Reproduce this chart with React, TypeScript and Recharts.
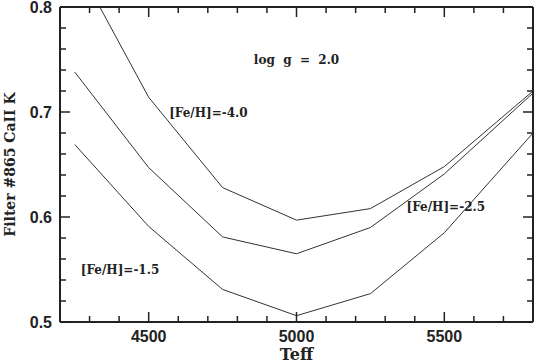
import React from "react";
import { LineChart, Line, XAxis, YAxis, ReferenceDot } from "recharts";

// Teff grid and filter index for three metallicities (log g = 2.0)
const teff = [4250, 4500, 4750, 5000, 5250, 5500, 5800];
const fehMinus40 = [0.844, 0.714, 0.628, 0.597, 0.608, 0.648, 0.72];
const fehMinus25 = [0.738, 0.647, 0.581, 0.565, 0.59, 0.641, 0.718];
const fehMinus15 = [0.669, 0.591, 0.531, 0.506, 0.527, 0.585, 0.68];

const xTicks = [4300, 4400, 4500, 4600, 4700, 4800, 4900, 5000, 5100, 5200, 5300, 5400, 5500, 5600, 5700];
const yTicks = [0.5, 0.52, 0.54, 0.56, 0.58, 0.6, 0.62, 0.64, 0.66, 0.68, 0.7, 0.72, 0.74, 0.76, 0.78, 0.8];
const yLabels = [0.5, 0.6, 0.7, 0.8];

const annotations = [
  { x: 5000, y: 0.7495, text: "log  g  =  2.0" },
  { x: 4702, y: 0.699, text: "[Fe/H]=-4.0" },
  { x: 5505, y: 0.61, text: "[Fe/H]=-2.5" },
  { x: 4403, y: 0.55, text: "[Fe/H]=-1.5" },
];

const data = teff.map((t, i) => ({
  teff: t,
  m40: fehMinus40[i],
  m25: fehMinus25[i],
  m15: fehMinus15[i],
}));

const W = 534;
const H = 363;
const X_AXIS_H = 41;
const Y_AXIS_W = 60;
const PLOT_W = W - Y_AXIS_W - 1;
const PLOT_H = H - 7 - X_AXIS_H;

const INK = "#222";
const serif = "'DejaVu Serif', serif";
const sans = "'Liberation Sans', Arial, sans-serif";

const isMajorX = (v: number) => v % 500 === 0;
const isMajorY = (v: number) => yLabels.some((l) => Math.abs(l - v) < 1e-6);

// tick labels (data chart)
function XLabel(props: any) {
  const { x, y, payload } = props;
  if (!isMajorX(payload.value)) return <g />;
  return (
    <text x={x} y={y + 20} textAnchor="middle" fontFamily={sans} fontWeight="bold" fontSize={16} fill={INK}>
      {payload.value}
    </text>
  );
}

function YLabel(props: any) {
  const { x, y, payload } = props;
  if (!isMajorY(payload.value)) return <g />;
  return (
    <text x={x - 8} y={y} textAnchor="end" dominantBaseline="central" fontFamily={sans} fontWeight="bold" fontSize={16} fill={INK}>
      {payload.value.toFixed(1)}
    </text>
  );
}

// inward tick marks on all four sides (overlay chart)
function XMark(props: any) {
  const { x, y, payload } = props;
  const len = isMajorX(payload.value) ? 10 : 6;
  return (
    <g>
      <line x1={x} x2={x} y1={y} y2={y - len} stroke="#222" strokeWidth={1.5} />
      <line x1={x} x2={x} y1={y - PLOT_H} y2={y - PLOT_H + len} stroke="#222" strokeWidth={1.5} />
    </g>
  );
}

function YMark(props: any) {
  const { x, y, payload } = props;
  const len = isMajorY(payload.value) ? 10 : 6;
  return (
    <g>
      <line x1={x} x2={x + len} y1={y} y2={y} stroke="#222" strokeWidth={1.5} />
      <line x1={x + PLOT_W} x2={x + PLOT_W - len} y1={y} y2={y} stroke="#222" strokeWidth={1.5} />
    </g>
  );
}

function DataChart() {
  return (
    <LineChart width={W} height={H} data={data} margin={{ top: 7, right: 1, left: 0, bottom: 0 }}>
      <XAxis
        dataKey="teff"
        type="number"
        domain={[4200, 5800]}
        ticks={xTicks}
        height={X_AXIS_H}
        tickSize={0}
        tickMargin={0}
        tickLine={false}
        axisLine={{ stroke: INK, strokeWidth: 2 }}
        tick={<XLabel />}
        interval={0}
        label={(p: any) => (
          <text x={p.viewBox.x + p.viewBox.width / 2} y={360} textAnchor="middle" fontFamily={serif} fontWeight="bold" fontSize={16} fill={INK}>
            Teff
          </text>
        )}
      />
      <YAxis
        type="number"
        domain={[0.5, 0.8]}
        allowDataOverflow
        ticks={yTicks}
        width={Y_AXIS_W}
        tickSize={0}
        tickMargin={0}
        tickLine={false}
        axisLine={{ stroke: INK, strokeWidth: 2 }}
        tick={<YLabel />}
        interval={0}
        label={(p: any) => {
          const cx = 10;
          const cy = p.viewBox.y + p.viewBox.height / 2;
          return (
            <text x={cx} y={cy} transform={`rotate(-90 ${cx} ${cy})`} textAnchor="middle" dominantBaseline="central" fontFamily={serif} fontWeight="bold" fontSize={14} fill={INK}>
              Filter #865 CaII K
            </text>
          );
        }}
      />
      <Line type="linear" dataKey="m40" stroke="#333" strokeWidth={1} dot={false} isAnimationActive={false} />
      <Line type="linear" dataKey="m25" stroke="#333" strokeWidth={1} dot={false} isAnimationActive={false} />
      <Line type="linear" dataKey="m15" stroke="#333" strokeWidth={1} dot={false} isAnimationActive={false} />
      {annotations.map((a) => (
        <ReferenceDot
          key={a.text}
          x={a.x}
          y={a.y}
          r={1}
          ifOverflow="visible"
          shape={(p: any) => (
            <text x={p.cx} y={p.cy} textAnchor="middle" dominantBaseline="central" fontFamily={serif} fontWeight="bold" fontSize={12} fill={INK} style={{ whiteSpace: "pre" }}>
              {a.text}
            </text>
          )}
        />
      ))}
    </LineChart>
  );
}

function FrameChart() {
  return (
    <LineChart width={W} height={H} data={data} margin={{ top: 6, right: 0, left: 0, bottom: 0 }}>
      <XAxis dataKey="teff" type="number" domain={[4200, 5800]} ticks={xTicks} height={X_AXIS_H}
        tickSize={0} tickMargin={0} tickLine={false} tick={<XMark />} interval={0} axisLine={{ stroke: INK, strokeWidth: 2 }} />
      <XAxis xAxisId="top" dataKey="teff" type="number" orientation="top" domain={[4200, 5800]} height={1}
        axisLine={{ stroke: INK, strokeWidth: 2 }} tick={false} />
      <YAxis domain={[0.5, 0.8]} width={Y_AXIS_W} ticks={yTicks} tickSize={0} tickMargin={0} tickLine={false}
        tick={<YMark />} interval={0} axisLine={{ stroke: INK, strokeWidth: 2 }} />
      <YAxis yAxisId="r" orientation="right" domain={[0.5, 0.8]} width={1}
        axisLine={{ stroke: INK, strokeWidth: 2 }} tick={false} />
      <Line type="linear" dataKey="m15" stroke="transparent" dot={false} isAnimationActive={false} />
    </LineChart>
  );
}

export default function App() {
  return (
    <div style={{ position: "absolute", left: 0, top: 0, width: W, height: H }}>
      <div style={{ position: "absolute", left: 0, top: 0 }}>
        <DataChart />
      </div>
      <div style={{ position: "absolute", left: 0, top: 0 }}>
        <FrameChart />
      </div>
    </div>
  );
}
